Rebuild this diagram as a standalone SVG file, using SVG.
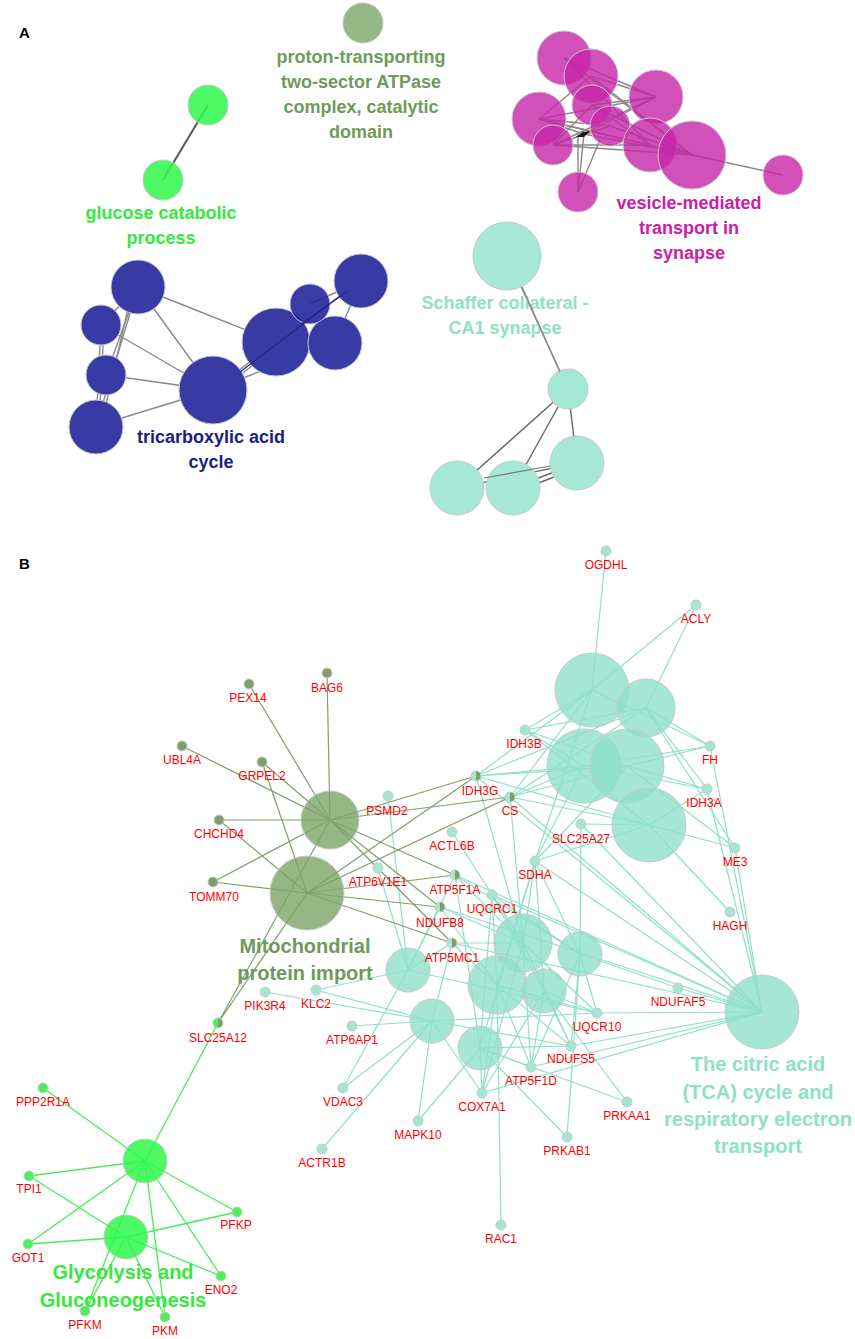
<svg xmlns="http://www.w3.org/2000/svg" width="855" height="1339" viewBox="0 0 855 1339">
<style>
.ea{stroke:#888;stroke-width:1.4;fill:none}
.et{stroke:#8fe0ca;stroke-width:1.2}
.eo{stroke:#7f9f6c;stroke-width:1.2}
.eg{stroke:#45ee57;stroke-width:1.3}
.n{stroke:#c8c8c8;stroke-width:1}
.mag{fill:#c724a9;fill-opacity:.8}
.blu{fill:#393ba5}
.blu2{fill:#24269c;fill-opacity:.9}
.teaa{fill:#a5e8d6}
.tea{fill:#8fe0ca;fill-opacity:.8}
.oli{fill:#7aa466;fill-opacity:.8}
.grn{fill:#2ef94b;fill-opacity:.85}
.st{fill:#a3e6d4}
.so{fill:#7f9e6c}
.sg{fill:#4cf05c}
.gl{font-family:"Liberation Sans",Arial,sans-serif;font-size:12px;fill:#ff0000;text-anchor:middle}
.cl{font-family:"Liberation Sans",Arial,sans-serif;font-weight:bold;text-anchor:middle}
.pl{font-family:"Liberation Sans",Arial,sans-serif;font-weight:bold;font-size:15px;fill:#000}
</style>

<!-- ================= PANEL A ================= -->
<text class="pl" x="19" y="38">A</text>

<g id="connectors-a">
<line class="ea" x1="208" y1="105" x2="163" y2="180" style="stroke:#555;stroke-width:2"/>
<!-- blue -->
<line class="ea" x1="138" y1="287" x2="213" y2="390"/>
<line class="ea" x1="138" y1="287" x2="276" y2="342"/>
<line class="ea" x1="101" y1="325" x2="213" y2="390"/>
<line class="ea" x1="106" y1="375" x2="213" y2="390"/>
<line class="ea" x1="96" y1="426" x2="213" y2="390"/>
<line class="ea" x1="138" y1="287" x2="96" y2="426"/>
<line class="ea" x1="133" y1="287" x2="101" y2="426"/>
<line class="ea" x1="101" y1="325" x2="96" y2="426"/>
<line class="ea" x1="104" y1="325" x2="99" y2="426"/>
<line class="ea" x1="138" y1="287" x2="106" y2="375"/>
<line class="ea" x1="138" y1="287" x2="101" y2="325"/>
<line class="ea" x1="213" y1="390" x2="276" y2="342"/>
<line class="ea" x1="215" y1="394" x2="278" y2="346"/>
<line class="ea" x1="213" y1="390" x2="335" y2="342"/>
<line class="ea" x1="276" y1="342" x2="361" y2="281"/>
<line class="ea" x1="310" y1="304" x2="361" y2="281"/>
<line class="ea" x1="335" y1="342" x2="361" y2="281"/>
<!-- magenta -->
<line class="ea" x1="692" y1="155" x2="783" y2="175"/>
<line class="ea" x1="564" y1="58" x2="656" y2="97"/>
<line class="ea" x1="591" y1="76" x2="656" y2="97"/>
<line class="ea" x1="591" y1="76" x2="692" y2="155"/>
<line class="ea" x1="564" y1="58" x2="692" y2="155"/>
<line class="ea" x1="539" y1="119" x2="656" y2="97"/>
<line class="ea" x1="539" y1="119" x2="692" y2="155"/>
<line class="ea" x1="539" y1="119" x2="650" y2="145"/>
<line class="ea" x1="553" y1="145" x2="692" y2="155"/>
<line class="ea" x1="553" y1="145" x2="650" y2="145"/>
<line class="ea" x1="553" y1="145" x2="656" y2="97"/>
<line class="ea" x1="592" y1="105" x2="692" y2="155"/>
<line class="ea" x1="592" y1="105" x2="650" y2="145"/>
<line class="ea" x1="578" y1="192" x2="584" y2="134"/>
<line class="ea" x1="578" y1="192" x2="600" y2="140"/>
<line class="ea" x1="578" y1="192" x2="578" y2="134"/>
<line class="ea" x1="610" y1="126" x2="692" y2="155"/>
<line class="ea" x1="539" y1="119" x2="610" y2="126"/>
<line class="ea" x1="592" y1="105" x2="656" y2="97"/>
<line class="ea" x1="553" y1="145" x2="610" y2="126"/>
<line class="ea" x1="539" y1="119" x2="591" y2="76"/>
<line class="ea" x1="553" y1="145" x2="592" y2="105"/>
<line class="ea" x1="584" y1="134" x2="656" y2="97"/>
<line class="ea" x1="584" y1="134" x2="692" y2="155"/>
<line class="ea" x1="584" y1="134" x2="539" y2="119"/>
<line class="ea" x1="564" y1="58" x2="650" y2="145"/>
<!-- teal A -->
<line class="ea" x1="507" y1="256" x2="568" y2="389"/>
<line class="ea" x1="568" y1="389" x2="457" y2="488" style="stroke:#666"/>
<line class="ea" x1="568" y1="389" x2="513" y2="488" style="stroke:#666"/>
<line class="ea" x1="568" y1="389" x2="577" y2="463" style="stroke:#666"/>
<line class="ea" x1="457" y1="488" x2="577" y2="463" style="stroke:#666"/>
<line class="ea" x1="513" y1="488" x2="577" y2="463" style="stroke:#666"/>
<line class="ea" x1="513" y1="493" x2="577" y2="468" style="stroke:#666"/>
</g>

<g id="cluster-glucose">
<circle class="n grn" cx="208" cy="105" r="20"/>
<circle class="n grn" cx="163" cy="180" r="20"/>
<text class="cl" font-size="18" fill="#36e83f" x="161" y="219">glucose catabolic</text>
<text class="cl" font-size="18" fill="#36e83f" x="161" y="244">process</text>
</g>

<g id="cluster-proton">
<circle class="n oli" cx="363" cy="23" r="20"/>
<text class="cl" font-size="18" fill="#6e9a5c" x="361" y="63">proton-transporting</text>
<text class="cl" font-size="18" fill="#6e9a5c" x="361" y="88">two-sector ATPase</text>
<text class="cl" font-size="18" fill="#6e9a5c" x="361" y="113">complex, catalytic</text>
<text class="cl" font-size="18" fill="#6e9a5c" x="361" y="138">domain</text>
</g>

<g id="cluster-vesicle">
<circle class="n mag" cx="564" cy="58" r="27"/>
<circle class="n mag" cx="591" cy="76" r="27"/>
<circle class="n mag" cx="592" cy="105" r="20"/>
<circle class="n mag" cx="539" cy="119" r="27"/>
<circle class="n mag" cx="553" cy="145" r="20"/>
<circle class="n mag" cx="610" cy="126" r="20"/>
<circle class="n mag" cx="656" cy="97" r="27"/>
<circle class="n mag" cx="650" cy="145" r="27"/>
<circle class="n mag" cx="692" cy="155" r="34"/>
<circle class="n mag" cx="578" cy="192" r="20"/>
<circle class="n mag" cx="783" cy="175" r="20"/>
<polygon points="576,137 583,132 590,131 584,137" fill="#111"/>
<text class="cl" font-size="18" fill="#c820a8" x="689" y="209">vesicle-mediated</text>
<text class="cl" font-size="18" fill="#c820a8" x="689" y="234">transport in</text>
<text class="cl" font-size="18" fill="#c820a8" x="689" y="259">synapse</text>
</g>

<g id="cluster-tca-a">
<circle class="n blu" cx="138" cy="287" r="27"/>
<circle class="n blu" cx="101" cy="325" r="20"/>
<circle class="n blu" cx="106" cy="375" r="20"/>
<circle class="n blu" cx="96" cy="427" r="27"/>
<circle class="n blu" cx="213" cy="390" r="34"/>
<circle class="n blu" cx="276" cy="342" r="34"/>
<circle class="n blu" cx="335" cy="343" r="27"/>
<circle class="n blu2" cx="310" cy="304" r="20"/>
<circle class="n blu" cx="361" cy="281" r="27"/>
<line x1="240" y1="372" x2="340" y2="296" stroke="#23257f" stroke-width="1.2"/>
<line x1="300" y1="325" x2="348" y2="291" stroke="#23257f" stroke-width="1"/>
<text class="cl" font-size="18" fill="#1c1c86" x="211" y="443">tricarboxylic acid</text>
<text class="cl" font-size="18" fill="#1c1c86" x="211" y="468">cycle</text>
</g>

<g id="cluster-schaffer">
<circle class="n teaa" cx="507" cy="256" r="34"/>
<circle class="n teaa" cx="568" cy="389" r="20"/>
<circle class="n teaa" cx="577" cy="463" r="27"/>
<circle class="n teaa" cx="457" cy="488" r="27"/>
<circle class="n teaa" cx="513" cy="488" r="27"/>
<line x1="484" y1="478" x2="550" y2="466" stroke="#777" stroke-width="1.2"/>
<text class="cl" font-size="18" fill="#8ee0c6" x="505" y="309">Schaffer collateral -</text>
<text class="cl" font-size="18" fill="#8ee0c6" x="505" y="334">CA1 synapse</text>
<line class="ea" x1="522" y1="287" x2="560" y2="372"/>
</g>

<!-- ================= PANEL B ================= -->
<text class="pl" x="19" y="569">B</text>

<g id="connectors-b">
<line class="et" x1="592" y1="690" x2="606" y2="551"/>
<line class="et" x1="592" y1="690" x2="696" y2="605"/>
<line class="et" x1="592" y1="690" x2="525" y2="730"/>
<line class="et" x1="592" y1="690" x2="710" y2="746"/>
<line class="et" x1="592" y1="690" x2="476" y2="776"/>
<line class="et" x1="592" y1="690" x2="510" y2="797"/>
<line class="et" x1="592" y1="690" x2="535" y2="861"/>
<line class="et" x1="646" y1="708" x2="696" y2="605"/>
<line class="et" x1="646" y1="708" x2="710" y2="746"/>
<line class="et" x1="646" y1="708" x2="707" y2="789"/>
<line class="et" x1="646" y1="708" x2="525" y2="730"/>
<line class="et" x1="646" y1="708" x2="510" y2="797"/>
<line class="et" x1="646" y1="708" x2="476" y2="776"/>
<line class="et" x1="646" y1="708" x2="735" y2="848"/>
<line class="et" x1="584" y1="766" x2="525" y2="730"/>
<line class="et" x1="584" y1="766" x2="710" y2="746"/>
<line class="et" x1="584" y1="766" x2="707" y2="789"/>
<line class="et" x1="584" y1="766" x2="476" y2="776"/>
<line class="et" x1="584" y1="766" x2="510" y2="797"/>
<line class="et" x1="584" y1="766" x2="535" y2="861"/>
<line class="et" x1="627" y1="766" x2="525" y2="730"/>
<line class="et" x1="627" y1="766" x2="710" y2="746"/>
<line class="et" x1="627" y1="766" x2="707" y2="789"/>
<line class="et" x1="627" y1="766" x2="476" y2="776"/>
<line class="et" x1="627" y1="766" x2="510" y2="797"/>
<line class="et" x1="627" y1="766" x2="535" y2="861"/>
<line class="et" x1="627" y1="766" x2="735" y2="848"/>
<line class="et" x1="649" y1="825" x2="525" y2="730"/>
<line class="et" x1="649" y1="825" x2="707" y2="789"/>
<line class="et" x1="649" y1="825" x2="735" y2="848"/>
<line class="et" x1="649" y1="825" x2="730" y2="912"/>
<line class="et" x1="649" y1="825" x2="510" y2="797"/>
<line class="et" x1="649" y1="825" x2="476" y2="776"/>
<line class="et" x1="649" y1="825" x2="535" y2="861"/>
<line class="et" x1="649" y1="825" x2="581" y2="824"/>
<line class="et" x1="762" y1="1012" x2="710" y2="746"/>
<line class="et" x1="762" y1="1012" x2="707" y2="789"/>
<line class="et" x1="762" y1="1012" x2="735" y2="848"/>
<line class="et" x1="762" y1="1012" x2="510" y2="797"/>
<line class="et" x1="762" y1="1012" x2="476" y2="776"/>
<line class="et" x1="762" y1="1012" x2="535" y2="861"/>
<line class="et" x1="762" y1="1012" x2="581" y2="824"/>
<line class="et" x1="762" y1="1012" x2="492" y2="895"/>
<line class="et" x1="762" y1="1012" x2="455" y2="875"/>
<line class="et" x1="762" y1="1012" x2="440" y2="907"/>
<line class="et" x1="762" y1="1012" x2="452" y2="943"/>
<line class="et" x1="762" y1="1012" x2="678" y2="988"/>
<line class="et" x1="762" y1="1012" x2="597" y2="1013"/>
<line class="et" x1="762" y1="1012" x2="571" y2="1046"/>
<line class="et" x1="762" y1="1012" x2="531" y2="1067"/>
<line class="et" x1="762" y1="1012" x2="482" y2="1093"/>
<line class="et" x1="408" y1="970" x2="388" y2="796"/>
<line class="et" x1="408" y1="970" x2="316" y2="990"/>
<line class="et" x1="408" y1="970" x2="343" y2="1088"/>
<line class="et" x1="408" y1="970" x2="378" y2="868"/>
<line class="et" x1="408" y1="970" x2="440" y2="907"/>
<line class="et" x1="408" y1="970" x2="452" y2="943"/>
<line class="et" x1="408" y1="970" x2="455" y2="875"/>
<line class="et" x1="408" y1="970" x2="597" y2="1013"/>
<line class="et" x1="523" y1="943" x2="452" y2="832"/>
<line class="et" x1="523" y1="943" x2="455" y2="875"/>
<line class="et" x1="523" y1="943" x2="440" y2="907"/>
<line class="et" x1="523" y1="943" x2="452" y2="943"/>
<line class="et" x1="523" y1="943" x2="492" y2="895"/>
<line class="et" x1="523" y1="943" x2="535" y2="861"/>
<line class="et" x1="523" y1="943" x2="597" y2="1013"/>
<line class="et" x1="523" y1="943" x2="571" y2="1046"/>
<line class="et" x1="523" y1="943" x2="531" y2="1067"/>
<line class="et" x1="523" y1="943" x2="482" y2="1093"/>
<line class="et" x1="523" y1="943" x2="510" y2="797"/>
<line class="et" x1="523" y1="943" x2="476" y2="776"/>
<line class="et" x1="580" y1="954" x2="535" y2="861"/>
<line class="et" x1="580" y1="954" x2="581" y2="824"/>
<line class="et" x1="580" y1="954" x2="492" y2="895"/>
<line class="et" x1="580" y1="954" x2="597" y2="1013"/>
<line class="et" x1="580" y1="954" x2="571" y2="1046"/>
<line class="et" x1="580" y1="954" x2="678" y2="988"/>
<line class="et" x1="580" y1="954" x2="567" y2="1137"/>
<line class="et" x1="580" y1="954" x2="531" y2="1067"/>
<line class="et" x1="580" y1="954" x2="455" y2="875"/>
<line class="et" x1="497" y1="985" x2="440" y2="907"/>
<line class="et" x1="497" y1="985" x2="452" y2="943"/>
<line class="et" x1="497" y1="985" x2="492" y2="895"/>
<line class="et" x1="497" y1="985" x2="535" y2="861"/>
<line class="et" x1="497" y1="985" x2="531" y2="1067"/>
<line class="et" x1="497" y1="985" x2="571" y2="1046"/>
<line class="et" x1="497" y1="985" x2="482" y2="1093"/>
<line class="et" x1="497" y1="985" x2="501" y2="1225"/>
<line class="et" x1="497" y1="985" x2="597" y2="1013"/>
<line class="et" x1="544" y1="991" x2="492" y2="895"/>
<line class="et" x1="544" y1="991" x2="535" y2="861"/>
<line class="et" x1="544" y1="991" x2="597" y2="1013"/>
<line class="et" x1="544" y1="991" x2="571" y2="1046"/>
<line class="et" x1="544" y1="991" x2="531" y2="1067"/>
<line class="et" x1="544" y1="991" x2="482" y2="1093"/>
<line class="et" x1="544" y1="991" x2="627" y2="1102"/>
<line class="et" x1="432" y1="1021" x2="316" y2="990"/>
<line class="et" x1="432" y1="1021" x2="265" y2="992"/>
<line class="et" x1="432" y1="1021" x2="352" y2="1026"/>
<line class="et" x1="432" y1="1021" x2="343" y2="1088"/>
<line class="et" x1="432" y1="1021" x2="322" y2="1149"/>
<line class="et" x1="432" y1="1021" x2="418" y2="1121"/>
<line class="et" x1="432" y1="1021" x2="452" y2="943"/>
<line class="et" x1="432" y1="1021" x2="482" y2="1093"/>
<line class="et" x1="432" y1="1021" x2="597" y2="1013"/>
<line class="et" x1="432" y1="1021" x2="571" y2="1046"/>
<line class="et" x1="480" y1="1048" x2="418" y2="1121"/>
<line class="et" x1="480" y1="1048" x2="482" y2="1093"/>
<line class="et" x1="480" y1="1048" x2="531" y2="1067"/>
<line class="et" x1="480" y1="1048" x2="571" y2="1046"/>
<line class="et" x1="480" y1="1048" x2="567" y2="1137"/>
<line class="et" x1="480" y1="1048" x2="627" y2="1102"/>
<line class="et" x1="480" y1="1048" x2="492" y2="895"/>
<line class="et" x1="480" y1="1048" x2="535" y2="861"/>
<line class="et" x1="480" y1="1048" x2="455" y2="875"/>
<line class="eo" x1="330" y1="820" x2="327" y2="673"/>
<line class="eo" x1="330" y1="820" x2="249" y2="684"/>
<line class="eo" x1="330" y1="820" x2="182" y2="746"/>
<line class="eo" x1="330" y1="820" x2="262" y2="762"/>
<line class="eo" x1="330" y1="820" x2="219" y2="820"/>
<line class="eo" x1="330" y1="820" x2="213" y2="882"/>
<line class="eo" x1="330" y1="820" x2="476" y2="776"/>
<line class="eo" x1="330" y1="820" x2="510" y2="797"/>
<line class="eo" x1="330" y1="820" x2="455" y2="875"/>
<line class="eo" x1="330" y1="820" x2="440" y2="907"/>
<line class="eo" x1="330" y1="820" x2="452" y2="943"/>
<line class="eo" x1="330" y1="820" x2="218" y2="1023"/>
<line class="eo" x1="307" y1="893" x2="262" y2="762"/>
<line class="eo" x1="307" y1="893" x2="219" y2="820"/>
<line class="eo" x1="307" y1="893" x2="213" y2="882"/>
<line class="eo" x1="307" y1="893" x2="476" y2="776"/>
<line class="eo" x1="307" y1="893" x2="510" y2="797"/>
<line class="eo" x1="307" y1="893" x2="455" y2="875"/>
<line class="eo" x1="307" y1="893" x2="440" y2="907"/>
<line class="eo" x1="307" y1="893" x2="452" y2="943"/>
<line class="eo" x1="307" y1="893" x2="218" y2="1023"/>
<line class="eg" x1="145" y1="1161" x2="218" y2="1023"/>
<line class="eg" x1="145" y1="1161" x2="43" y2="1088"/>
<line class="eg" x1="145" y1="1161" x2="29" y2="1176"/>
<line class="eg" x1="145" y1="1161" x2="28" y2="1244"/>
<line class="eg" x1="145" y1="1161" x2="237" y2="1212"/>
<line class="eg" x1="145" y1="1161" x2="221" y2="1276"/>
<line class="eg" x1="145" y1="1161" x2="85" y2="1311"/>
<line class="eg" x1="145" y1="1161" x2="165" y2="1317"/>
<line class="eg" x1="126" y1="1237" x2="29" y2="1176"/>
<line class="eg" x1="126" y1="1237" x2="28" y2="1244"/>
<line class="eg" x1="126" y1="1237" x2="237" y2="1212"/>
<line class="eg" x1="126" y1="1237" x2="221" y2="1276"/>
<line class="eg" x1="126" y1="1237" x2="85" y2="1311"/>
<line class="eg" x1="126" y1="1237" x2="165" y2="1317"/>
</g>

<g id="cluster-tca-b">
<circle class="n tea" cx="592" cy="690" r="37"/>
<circle class="n tea" cx="646" cy="708" r="29"/>
<circle class="n tea" cx="584" cy="766" r="37"/>
<circle class="n tea" cx="627" cy="766" r="37"/>
<circle class="n tea" cx="649" cy="825" r="37"/>
<circle class="n tea" cx="762" cy="1012" r="37"/>
<circle class="n tea" cx="408" cy="970" r="22"/>
<circle class="n tea" cx="523" cy="943" r="29"/>
<circle class="n tea" cx="580" cy="954" r="22"/>
<circle class="n tea" cx="497" cy="985" r="29"/>
<circle class="n tea" cx="544" cy="991" r="22"/>
<circle class="n tea" cx="432" cy="1021" r="22"/>
<circle class="n tea" cx="480" cy="1048" r="22"/>
<text class="cl" font-size="20" fill="#8ee0c6" x="758" y="1071">The citric acid</text>
<text class="cl" font-size="20" fill="#8ee0c6" x="758" y="1099">(TCA) cycle and</text>
<text class="cl" font-size="20" fill="#8ee0c6" x="758" y="1126">respiratory electron</text>
<text class="cl" font-size="20" fill="#8ee0c6" x="758" y="1153">transport</text>
</g>

<g id="cluster-mito">
<circle class="n oli" cx="330" cy="820" r="29"/>
<circle class="n oli" cx="307" cy="893" r="37"/>
<text class="cl" font-size="20" fill="#6e9a5c" x="305" y="953">Mitochondrial</text>
<text class="cl" font-size="20" fill="#6e9a5c" x="305" y="980">protein import</text>
</g>

<g id="cluster-glyco">
<circle class="n grn" cx="145" cy="1161" r="22"/>
<circle class="n grn" cx="126" cy="1237" r="22"/>
<text class="cl" font-size="20" fill="#36e83f" x="123" y="1279">Glycolysis and</text>
<text class="cl" font-size="20" fill="#36e83f" x="123" y="1307">Gluconeogenesis</text>
</g>

<g id="g-OGDHL"><circle class="n st" cx="606" cy="551" r="5"/><text class="gl" x="606" y="569">OGDHL</text></g>
<g id="g-ACLY"><circle class="n st" cx="696" cy="605" r="5"/><text class="gl" x="696" y="623">ACLY</text></g>
<g id="g-IDH3B"><circle class="n st" cx="525" cy="730" r="5"/><text class="gl" x="524" y="748">IDH3B</text></g>
<g id="g-FH"><circle class="n st" cx="710" cy="746" r="5"/><text class="gl" x="710" y="764">FH</text></g>
<g id="g-IDH3A"><circle class="n st" cx="707" cy="789" r="5"/><text class="gl" x="704" y="807">IDH3A</text></g>
<g id="g-ME3"><circle class="n st" cx="735" cy="848" r="5"/><text class="gl" x="735" y="866">ME3</text></g>
<g id="g-HAGH"><circle class="n st" cx="730" cy="912" r="5"/><text class="gl" x="730" y="930">HAGH</text></g>
<g id="g-SLC25A27"><circle class="n st" cx="581" cy="824" r="5"/><text class="gl" x="581" y="843">SLC25A27</text></g>
<g id="g-SDHA"><circle class="n st" cx="535" cy="861" r="5"/><text class="gl" x="535" y="879">SDHA</text></g>
<g id="g-UQCRC1"><circle class="n st" cx="492" cy="895" r="5"/><text class="gl" x="492" y="913">UQCRC1</text></g>
<g id="g-ACTL6B"><circle class="n st" cx="452" cy="832" r="5"/><text class="gl" x="452" y="850">ACTL6B</text></g>
<g id="g-PSMD2"><circle class="n st" cx="388" cy="796" r="5"/><text class="gl" x="387" y="815">PSMD2</text></g>
<g id="g-ATP6V1E1"><circle class="n st" cx="378" cy="868" r="5"/><text class="gl" x="378" y="886">ATP6V1E1</text></g>
<g id="g-KLC2"><circle class="n st" cx="316" cy="990" r="5"/><text class="gl" x="316" y="1008">KLC2</text></g>
<g id="g-PIK3R4"><circle class="n st" cx="265" cy="992" r="5"/><text class="gl" x="265" y="1010">PIK3R4</text></g>
<g id="g-ATP6AP1"><circle class="n st" cx="352" cy="1026" r="5"/><text class="gl" x="352" y="1044">ATP6AP1</text></g>
<g id="g-VDAC3"><circle class="n st" cx="343" cy="1088" r="5"/><text class="gl" x="343" y="1106">VDAC3</text></g>
<g id="g-ACTR1B"><circle class="n st" cx="322" cy="1149" r="5"/><text class="gl" x="322" y="1167">ACTR1B</text></g>
<g id="g-MAPK10"><circle class="n st" cx="418" cy="1121" r="5"/><text class="gl" x="418" y="1139">MAPK10</text></g>
<g id="g-COX7A1"><circle class="n st" cx="482" cy="1093" r="5"/><text class="gl" x="482" y="1111">COX7A1</text></g>
<g id="g-ATP5F1D"><circle class="n st" cx="531" cy="1067" r="5"/><text class="gl" x="531" y="1085">ATP5F1D</text></g>
<g id="g-NDUFS5"><circle class="n st" cx="571" cy="1046" r="5"/><text class="gl" x="571" y="1063">NDUFS5</text></g>
<g id="g-UQCR10"><circle class="n st" cx="597" cy="1013" r="5"/><text class="gl" x="597" y="1031">UQCR10</text></g>
<g id="g-NDUFAF5"><circle class="n st" cx="678" cy="988" r="5"/><text class="gl" x="678" y="1006">NDUFAF5</text></g>
<g id="g-PRKAA1"><circle class="n st" cx="627" cy="1102" r="5"/><text class="gl" x="627" y="1120">PRKAA1</text></g>
<g id="g-PRKAB1"><circle class="n st" cx="567" cy="1137" r="5"/><text class="gl" x="567" y="1155">PRKAB1</text></g>
<g id="g-RAC1"><circle class="n st" cx="501" cy="1225" r="5"/><text class="gl" x="501" y="1243">RAC1</text></g>

<g id="g-IDH3G"><path d="M476 771A5 5 0 0 0 476 781Z" fill="#a3e6d4"/><path d="M476 771A5 5 0 0 1 476 781Z" fill="#7f9e6c"/><circle cx="476" cy="776" r="5" fill="none" class="n"/><text class="gl" x="480" y="795">IDH3G</text></g>
<g id="g-CS"><path d="M510 792A5 5 0 0 0 510 802Z" fill="#a3e6d4"/><path d="M510 792A5 5 0 0 1 510 802Z" fill="#7f9e6c"/><circle cx="510" cy="797" r="5" fill="none" class="n"/><text class="gl" x="510" y="815">CS</text></g>
<g id="g-ATP5F1A"><path d="M455 870A5 5 0 0 0 455 880Z" fill="#a3e6d4"/><path d="M455 870A5 5 0 0 1 455 880Z" fill="#7f9e6c"/><circle cx="455" cy="875" r="5" fill="none" class="n"/><text class="gl" x="455" y="894">ATP5F1A</text></g>
<g id="g-NDUFB8"><path d="M440 902A5 5 0 0 0 440 912Z" fill="#a3e6d4"/><path d="M440 902A5 5 0 0 1 440 912Z" fill="#7f9e6c"/><circle cx="440" cy="907" r="5" fill="none" class="n"/><text class="gl" x="440" y="927">NDUFB8</text></g>
<g id="g-ATP5MC1"><path d="M452 938A5 5 0 0 0 452 948Z" fill="#a3e6d4"/><path d="M452 938A5 5 0 0 1 452 948Z" fill="#7f9e6c"/><circle cx="452" cy="943" r="5" fill="none" class="n"/><text class="gl" x="452" y="962">ATP5MC1</text></g>
<g id="g-SLC25A12"><path d="M218 1018A5 5 0 0 0 218 1028Z" fill="#4cf05c"/><path d="M218 1018A5 5 0 0 1 218 1028Z" fill="#7f9e6c"/><circle cx="218" cy="1023" r="5" fill="none" class="n"/><text class="gl" x="218" y="1042">SLC25A12</text></g>

<g id="g-BAG6"><circle class="n so" cx="327" cy="673" r="5"/><text class="gl" x="327" y="692">BAG6</text></g>
<g id="g-PEX14"><circle class="n so" cx="249" cy="684" r="5"/><text class="gl" x="248" y="702">PEX14</text></g>
<g id="g-UBL4A"><circle class="n so" cx="182" cy="746" r="5"/><text class="gl" x="182" y="764">UBL4A</text></g>
<g id="g-GRPEL2"><circle class="n so" cx="262" cy="762" r="5"/><text class="gl" x="262" y="780">GRPEL2</text></g>
<g id="g-CHCHD4"><circle class="n so" cx="219" cy="820" r="5"/><text class="gl" x="219" y="838">CHCHD4</text></g>
<g id="g-TOMM70"><circle class="n so" cx="213" cy="882" r="5"/><text class="gl" x="214" y="901">TOMM70</text></g>

<g id="g-PPP2R1A"><circle class="n sg" cx="43" cy="1088" r="5"/><text class="gl" x="43" y="1106">PPP2R1A</text></g>
<g id="g-TPI1"><circle class="n sg" cx="29" cy="1176" r="5"/><text class="gl" x="29" y="1193">TPI1</text></g>
<g id="g-GOT1"><circle class="n sg" cx="28" cy="1244" r="5"/><text class="gl" x="28" y="1262">GOT1</text></g>
<g id="g-PFKP"><circle class="n sg" cx="237" cy="1212" r="5"/><text class="gl" x="236" y="1229">PFKP</text></g>
<g id="g-ENO2"><circle class="n sg" cx="221" cy="1276" r="5"/><text class="gl" x="221" y="1294">ENO2</text></g>
<g id="g-PFKM"><circle class="n sg" cx="85" cy="1311" r="5"/><text class="gl" x="85" y="1329">PFKM</text></g>
<g id="g-PKM"><circle class="n sg" cx="165" cy="1317" r="5"/><text class="gl" x="165" y="1335">PKM</text></g>
</svg>
